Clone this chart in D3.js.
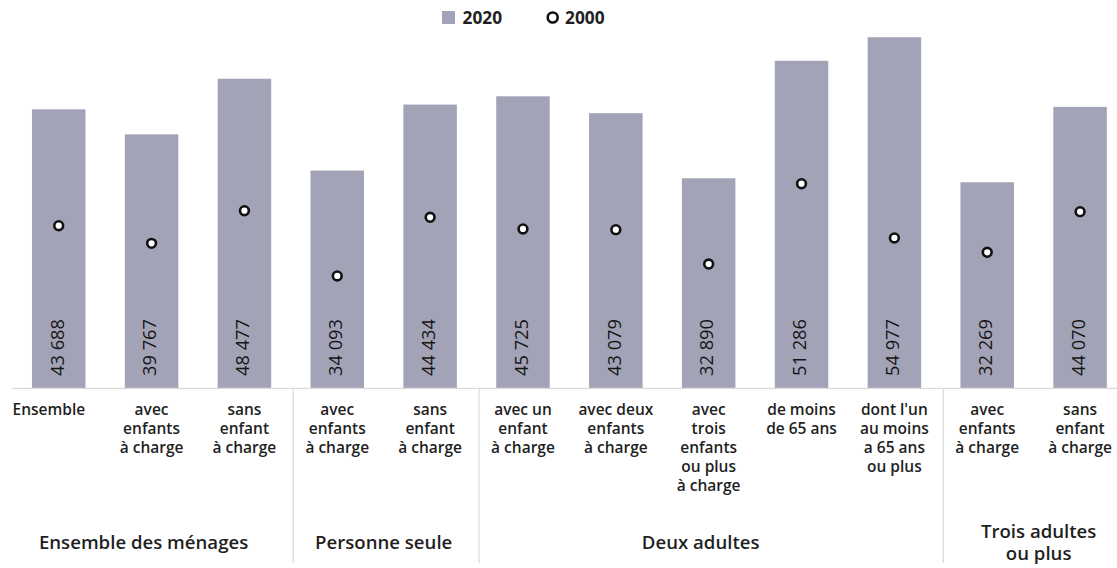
<!DOCTYPE html>
<html>
<head>
<meta charset="utf-8">
<script src="https://cdn.jsdelivr.net/npm/d3@7/dist/d3.min.js"></script>
<style>
  html, body { margin: 0; padding: 0; background: #fff; }
  svg { display: block; font-family: "Open Sans", "Noto Sans", sans-serif; }
</style>
</head>
<body>
<svg id="chart" width="1117" height="568"></svg>
<script>
// ---- Data ----
const categories = [
  "Ensemble",
  "avec|enfants|à charge",
  "sans|enfant|à charge",
  "avec|enfants|à charge",
  "sans|enfant|à charge",
  "avec un|enfant|à charge",
  "avec deux|enfants|à charge",
  "avec|trois|enfants|ou plus|à charge",
  "de moins|de 65 ans",
  "dont l'un|au moins|a 65 ans|ou plus",
  "avec|enfants|à charge",
  "sans|enfant|à charge"
];
const values2020 = [43688, 39767, 48477, 34093, 44434, 45725, 43079, 32890, 51286, 54977, 32269, 44070];
const values2000 = [25460, 22700, 27810, 17590, 26780, 24950, 24840, 19460, 32040, 23540, 21300, 27660];
const groupNames = ["Ensemble des ménages", "Personne seule", "Deux adultes", "Trois adultes|ou plus"];
const groupStart = [0, 3, 5, 10];
const groupEnd = [2, 4, 9, 11];
const seriesNames = ["2020", "2000"];

// ---- Layout ----
const svg = d3.select("#chart");
const baseY = 388.3;
const barColor = "#a3a3b7";
const textColor = "#1f1f1f";

const x = d3.scaleBand()
  .domain(d3.range(categories.length))
  .range([13.4, 1125.4])
  .paddingInner(0.4238)
  .paddingOuter(0.2);

const y = d3.scaleLinear()
  .domain([0, 60000])
  .range([baseY, baseY - 60000 * 0.006386]);

const fmt = d3.formatLocale({ decimal: ",", thousands: " ", grouping: [3], currency: ["", " €"] }).format(",d");

// Bars
svg.append("g").selectAll("rect")
  .data(values2020)
  .join("rect")
  .attr("x", (d, i) => x(i))
  .attr("width", x.bandwidth())
  .attr("y", d => y(d))
  .attr("height", d => y(0) - y(d))
  .attr("fill", barColor);

// Value labels (rotated)
svg.append("g").selectAll("text")
  .data(values2020)
  .join("text")
  .attr("transform", (d, i) => `translate(${x(i) + x.bandwidth() / 2},376) rotate(-90)`)
  .attr("x", 0)
  .attr("y", 4.8)
  .attr("text-anchor", "start")
  .attr("font-size", 18.3)
  .attr("fill", "#151515")
  .text(d => fmt(d));

// 2000 dots
svg.append("g").selectAll("circle")
  .data(values2000)
  .join("circle")
  .attr("cx", (d, i) => x(i) + x.bandwidth() / 2)
  .attr("cy", d => y(d))
  .attr("r", 4.4)
  .attr("fill", "#fff")
  .attr("stroke", "#111")
  .attr("stroke-width", 2.6);

// Baseline
svg.append("line")
  .attr("x1", 12).attr("x2", 1117)
  .attr("y1", baseY).attr("y2", baseY)
  .attr("stroke", "#d9d9d9").attr("stroke-width", 1.3);

// Group separators
const gap = x.step() - x.bandwidth();
groupEnd.slice(0, -1).forEach(e => {
  const sx = x(e) + x.bandwidth() + gap / 2 + 2.5;
  svg.append("line")
    .attr("x1", sx).attr("x2", sx)
    .attr("y1", baseY).attr("y2", 563)
    .attr("stroke", "#dcdcdc").attr("stroke-width", 1.3);
});

// Category labels
const catG = svg.append("g");
categories.forEach((c, i) => {
  const lines = c.split("|");
  const cx = x(i) + x.bandwidth() / 2;
  const t = catG.append("text")
    .attr("font-size", 15.5)
    .attr("font-weight", 600)
    .attr("fill", textColor)
    .attr("text-anchor", i === 0 ? "start" : "middle")
    .attr("x", i === 0 ? 12.5 : cx)
    .attr("y", 414.5);
  lines.forEach((l, k) => {
    t.append("tspan")
      .attr("x", i === 0 ? 12.5 : cx)
      .attr("dy", k === 0 ? 0 : 19)
      .text(l);
  });
});

// Group labels
const grpG = svg.append("g");
const groupNudge = [-8, 0, -8, 5];
groupNames.forEach((g, gi) => {
  const cx = (x(groupStart[gi]) + x(groupEnd[gi]) + x.bandwidth()) / 2 + groupNudge[gi];
  const lines = g.split("|");
  const startY = lines.length === 1 ? 549 : 538;
  const t = grpG.append("text")
    .attr("font-size", 18.6)
    .attr("font-weight", 600)
    .attr("fill", textColor)
    .attr("text-anchor", "middle")
    .attr("x", cx)
    .attr("y", startY);
  lines.forEach((l, k) => {
    t.append("tspan").attr("x", cx).attr("dy", k === 0 ? 0 : 22).text(l);
  });
});

// Legend
const leg = svg.append("g");
leg.append("rect").attr("x", 442).attr("y", 11).attr("width", 13).attr("height", 13).attr("fill", barColor);
leg.append("text").attr("x", 462.5).attr("y", 23.8).attr("font-size", 17.3).attr("font-weight", 700)
  .attr("fill", textColor).text(seriesNames[0]);
leg.append("circle").attr("cx", 552.7).attr("cy", 17.5).attr("r", 5).attr("fill", "#fff")
  .attr("stroke", "#111").attr("stroke-width", 2.6);
leg.append("text").attr("x", 565).attr("y", 23.8).attr("font-size", 17.3).attr("font-weight", 700)
  .attr("fill", textColor).text(seriesNames[1]);
</script>
</body>
</html>
